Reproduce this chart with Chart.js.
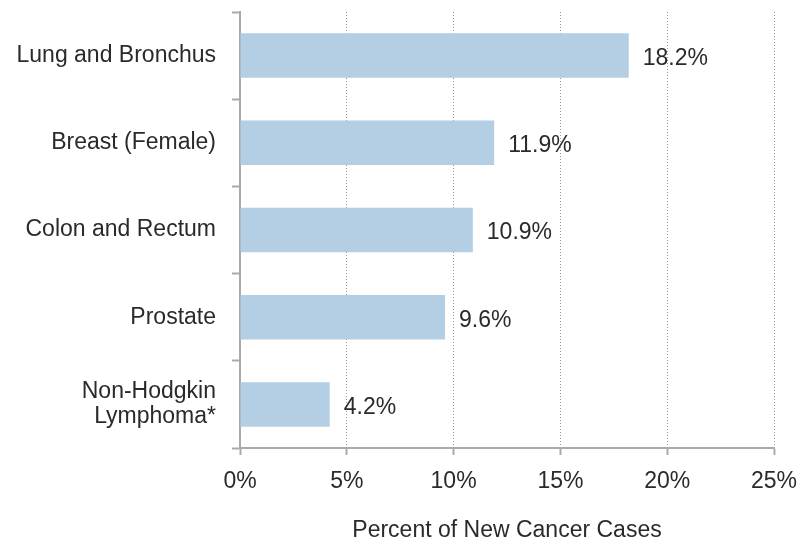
<!DOCTYPE html>
<html>
<head>
<meta charset="utf-8">
<script src="https://cdn.jsdelivr.net/npm/chart.js@4"></script>
<style>
  html, body { margin: 0; padding: 0; background: #fff; }
  #wrap { width: 799px; height: 544px; }
</style>
</head>
<body>
<div id="wrap"><canvas id="chart" width="799" height="544"></canvas></div>
<script>
const categories = ['Lung and Bronchus', 'Breast (Female)', 'Colon and Rectum', 'Prostate', ['Non-Hodgkin', 'Lymphoma*']];
const percentValues = [18.2, 11.9, 10.9, 9.6, 4.2];
const xTicks = [0, 5, 10, 15, 20, 25];

const fontFamily = '"Liberation Sans", Arial, sans-serif';
const textColor = '#2a2a2a';
const fontSize = 23;

// draws the "18.2%" labels right of each bar
const valueLabels = {
  id: 'valueLabels',
  afterDatasetsDraw(chart) {
    const c = chart.ctx;
    const meta = chart.getDatasetMeta(0);
    c.save();
    c.font = fontSize + 'px ' + fontFamily;
    c.fillStyle = textColor;
    c.textAlign = 'left';
    c.textBaseline = 'middle';
    meta.data.forEach((bar, i) => {
      c.fillText(percentValues[i].toFixed(1) + '%', bar.x + 14, bar.y + 3);
    });
    c.restore();
  }
};

const ctx = document.getElementById('chart').getContext('2d');

const myChart = new Chart(ctx, {
  type: 'bar',
  data: {
    labels: categories,
    datasets: [{
      data: percentValues,
      backgroundColor: '#b4cee3',
      borderWidth: 0,
      categoryPercentage: 0.51,
      barPercentage: 1
    }]
  },
  options: {
    indexAxis: 'y',
    responsive: false,
    animation: false,
    layout: { padding: { top: 12, right: 25, left: 0, bottom: 0 } },
    plugins: {
      legend: { display: false },
      tooltip: { enabled: false }
    },
    scales: {
      x: {
        min: 0,
        max: 25,
        afterBuildTicks(scale) {
          scale.ticks = xTicks.map(v => ({ value: v }));
        },
        afterFit(scale) {
          scale.height = 96;
          scale.paddingLeft = 0;
          scale.paddingRight = 0;
        },
        grid: {
          color: '#999',
          lineWidth: 1,
          tickLength: 7,
          tickColor: '#aaa',
          tickWidth: 2,
          tickBorderDash: []
        },
        border: { display: true, color: '#aaa', width: 2, dash: [1, 2] },
        ticks: {
          color: textColor,
          font: { family: fontFamily, size: fontSize },
          padding: 13,
          callback: v => v + '%'
        },
        title: {
          display: true,
          text: 'Percent of New Cancer Cases',
          color: textColor,
          font: { family: fontFamily, size: fontSize },
          padding: { top: 20, bottom: 0 }
        }
      },
      y: {
        afterFit(scale) {
          scale.width = 240;
          scale.paddingTop = 0;
          scale.paddingBottom = 0;
        },
        grid: {
          offset: true,
          drawOnChartArea: false,
          tickLength: 8,
          tickColor: '#aaa',
          tickWidth: 2
        },
        border: { display: true, color: '#aaa', width: 2 },
        ticks: {
          color: textColor,
          font: { family: fontFamily, size: fontSize, lineHeight: 1.1 },
          padding: 16
        }
      }
    }
  },
  plugins: [valueLabels]
});
</script>
</body>
</html>
